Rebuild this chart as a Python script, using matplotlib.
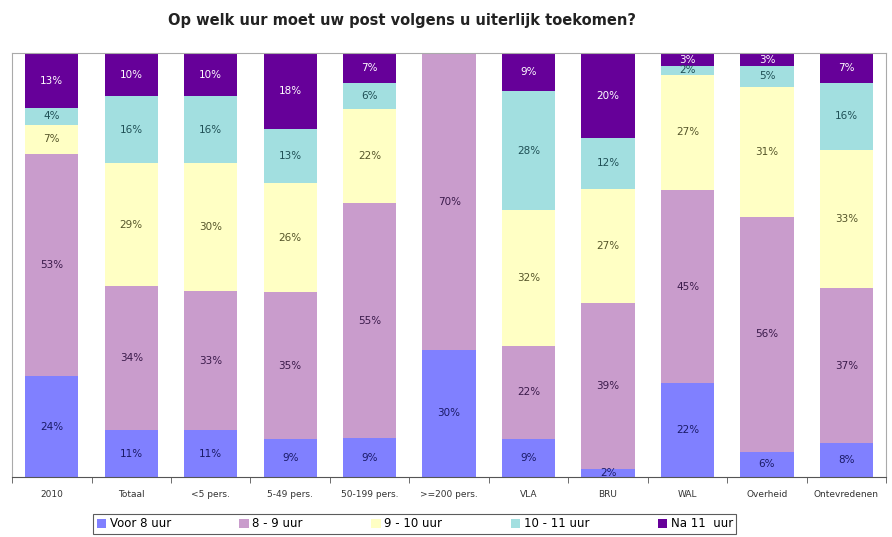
import numpy as np
import matplotlib
matplotlib.use("Agg")
import matplotlib.pyplot as plt

categories = ["2010", "Totaal", "<5 pers.", "5-49 pers.", "50-199 pers.", ">=200 pers.",
              "VLA", "BRU", "WAL", "Overheid", "Ontevredenen"]
series_names = ["Voor 8 uur", "8 - 9 uur", "9 - 10 uur", "10 - 11 uur", "Na 11  uur"]
voor_8 = [24, 11, 11, 9, 9, 30, 9, 2, 22, 6, 8]
uur_8_9 = [53, 34, 33, 35, 55, 70, 22, 39, 45, 56, 37]
uur_9_10 = [7, 29, 30, 26, 22, 0, 32, 27, 27, 31, 33]
uur_10_11 = [4, 16, 16, 13, 6, 0, 28, 12, 2, 5, 16]
na_11 = [13, 10, 10, 18, 7, 0, 9, 20, 3, 3, 7]

colors = ["#8080ff", "#c99ccc", "#ffffc4", "#a2dfe0", "#660099"]
text_colors = ["#1a1a66", "#3a1a4a", "#55552a", "#1f4f55", "white"]

fig = plt.figure(figsize=(8.92, 5.37), dpi=100)
ax = fig.add_axes([0.0135, 0.1117, 0.980, 0.789])

x = np.arange(len(categories))
all_series = np.array([voor_8, uur_8_9, uur_9_10, uur_10_11, na_11], dtype=float)
# rounded percentages: scale each column so the stack fills 100%
heights = all_series / all_series.sum(axis=0) * 100
bottom = np.zeros(len(categories))
handles = []
for vals, h, name, col, tcol in zip(all_series, heights, series_names, colors, text_colors):
    bars = ax.bar(x, h, bottom=bottom, width=0.67, color=col, label=name,
                  edgecolor="none")
    handles.append(bars)
    for xi, b, hv, v in zip(x, bottom, h, vals):
        if v > 0:
            ax.text(xi, min(b + hv / 2, 99), f"{int(v)}%", ha="center", va="center",
                    fontsize=7.5, color=tcol)
    bottom += h

ax.set_xlim(-0.5, len(categories) - 0.5)
ax.set_ylim(0, 100)
ax.set_yticks([])
ax.set_xticks(x)
ax.set_xticklabels(categories, fontsize=6.5, color="#333333")
ax.tick_params(axis="x", which="major", length=0, pad=9)
ax.set_xticks(np.arange(-0.5, len(categories), 1.0), minor=True)
ax.tick_params(axis="x", which="minor", length=4, direction="out", color="#555555")
for side in ["left", "top", "right"]:
    ax.spines[side].set_color("#aaaaaa")
    ax.spines[side].set_linewidth(0.8)
ax.spines["bottom"].set_color("#555555")

fig.text(0.451, 0.962, "Op welk uur moet uw post volgens u uiterlijk toekomen?",
         ha="center", va="center", fontsize=10.5, fontweight="bold", color="#222222")

leg = fig.legend(handles=handles, labels=series_names, loc="center",
                 bbox_to_anchor=(0.465, 0.0245), ncol=5, fontsize=8.5,
                 frameon=True, fancybox=False, edgecolor="#333333",
                 handlelength=0.8, handleheight=0.8, handletextpad=0.3,
                 columnspacing=5.8, borderpad=0.3)
leg.get_frame().set_linewidth(0.8)

fig.savefig("out.png", dpi=100)
